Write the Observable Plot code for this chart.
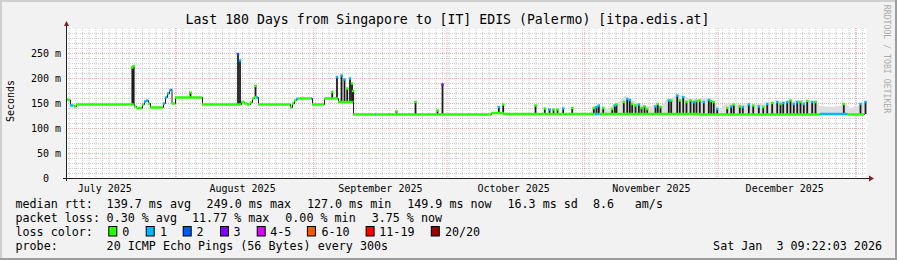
<!DOCTYPE html>
<html><head><meta charset="utf-8">
<script src="https://cdn.jsdelivr.net/npm/d3@7"></script>
<script src="https://cdn.jsdelivr.net/npm/@observablehq/plot@0.6"></script>
<style>
html,body{margin:0;padding:0;background:#f2f2f2;}
#chart svg{display:block;}
</style></head><body><div id="chart"></div>
<script>
// ---------------- data ----------------
const startTime = Date.UTC(2025, 6, 7, 9, 22, 3);   // 180 days window
const endTime   = Date.UTC(2026, 0, 3, 9, 22, 3);

// median rtt (ms) as steps: day offset from start, value, loss bucket index
const medDay  = [0.0,0.45,0.9,1.58,1.8,2.25,14.85,15.3,15.75,16.65,17.1,17.55,18.0,18.45,18.9,21.38,21.83,22.28,22.73,23.18,23.51,23.74,24.3,24.53,30.15,30.6,38.25,39.38,40.05,40.73,41.4,41.85,42.3,42.75,43.2,49.95,50.4,50.85,51.3,51.75,52.2,55.13,55.35,57.83,58.05,60.75,61.2,64.46,64.58,69.53,69.75,94.95,95.63,98.33,119.03,119.93,142.65,169.2,169.65,175.5,175.73,179.33,179.6];
const medMs   = [158,157,146,146,144,148,148,144,141,141,148,154,156,150,142,142,150,162,170,176,178,150,150,162,162,148,148,153,150,148,152,160,163,162,148,148,142,150,156,159,160,160,148,148,160,160,153,153,128,128,128,128,131,129,129,129,128,128,129,129,128,128,128];
const medLoss = [0,0,1,0,0,0,0,0,0,0,0,1,1,0,0,0,1,1,1,1,1,0,0,0,0,0,0,0,0,0,0,0,0,1,0,0,0,0,0,1,0,1,0,0,0,0,0,0,0,1,0,0,0,0,1,0,0,0,1,1,0,0,0];

// short bursts of the median (dark spikes): day offset, peak ms, loss bucket at peak
const spikeDay  = [14.81,15.12,27.9,38.59,39.04,42.53,59.79,60.86,61.88,62.55,63.16,63.79,64.24,64.5,74.25,78.53,83.48,84.6,97.27,98.26,105.53,107.62,108.68,109.58,110.48,111.76,113.79,118.65,119.25,119.77,120.76,122.78,123.37,123.75,125.39,126.16,126.74,127.28,128.03,128.77,129.38,130.05,130.66,132.53,133.04,133.65,135.52,136.06,137.41,137.99,138.76,139.5,140.4,141.14,141.75,142.49,143.39,144.52,145.06,145.64,146.41,148.66,149.56,150.14,151.49,152.17,153.52,154.51,155.77,156.76,157.66,158.78,159.91,160.65,161.26,162.16,162.9,163.64,164.41,165.15,165.89,166.66,167.78,168.53,174.89,178.65,179.78];
const spikeTop  = [222,225,172,249,236,185,173,203,206,198,180,200,190,175,134,153,136,188,143,148,146,140,138,138,138,140,141,141,143,146,141,139,146,148,153,159,157,149,146,148,141,144,139,144,149,143,156,156,166,156,163,153,156,153,155,156,153,157,155,153,139,141,144,148,144,143,148,146,144,143,149,151,153,149,151,153,156,149,153,153,149,155,153,153,149,149,153];
const spikeLoss = [0,0,0,2,1,0,0,1,1,1,0,1,0,0,0,0,0,3,1,0,0,0,1,0,0,1,0,0,1,1,0,0,1,0,0,1,1,0,0,1,0,0,0,1,0,0,1,0,1,0,1,0,0,1,0,0,1,1,0,0,1,0,1,0,0,1,1,0,1,0,1,0,1,0,1,1,0,1,1,0,1,0,1,0,0,1,1];

// smoke (spread of the pings), upper edge in ms
const smokeDay = [117.9,118.58,120.15,121.95,123.3,124.65,125.78,127.35,129.15,131.4,132.75,134.1,135.0,136.35,137.48,139.28,140.85,142.65,144.45,146.25,147.15,148.28,150.53,152.78,155.03,157.28,159.53,161.78,164.03,166.28,168.53,169.65,171.9,174.15,175.28,176.4,178.2,179.78];
const smokeHi  = [128,143,143,137,149,153,165,157,147,143,149,143,157,160,167,163,157,159,159,149,135,149,149,147,147,151,153,154,155,155,153,144,142,144,150,140,144,153];

const yTicks = [0, 50, 100, 150, 200, 250];
const lossLabels = ["0", "1", "2", "3", "4-5", "6-10", "11-19", "20/20"];
const lossColors = ["#26ff00", "#00b8ff", "#0059ff", "#7e00ff", "#dd00ff", "#ff5500", "#ff0000", "#a10000"];

const titleText = "Last 180 Days from Singapore to [IT] EDIS (Palermo) [itpa.edis.at]";
const rttStats  = ["139.7 ms avg", "249.0 ms max", "127.0 ms min", "149.9 ms now", "16.3 ms sd", "8.6", "am/s"];
const lossStats = ["0.30 % avg", "11.77 % max", "0.00 % min", "3.75 % now"];
const probeText = "20 ICMP Echo Pings (56 Bytes) every 300s";
const stampText = "Sat Jan\u00a0\u00a03 09:22:03 2026";

// ---------------- build ----------------
const DAY = 864e5;
const toDate = d => new Date(startTime + d * DAY);
const start = new Date(startTime), end = new Date(endTime);

const median = medDay.map((d, i) => ({t: toDate(d), v: medMs[i], c: lossColors[medLoss[i]]}));
const segs = median.slice(0, -1).map((p, i) => ({t1: p.t, t2: median[i + 1].t, v: p.v, c: p.c}));
const bis = d3.bisector(p => p.t).right;
const baseAt = t => median[Math.max(0, bis(median, t) - 1)].v;
const spikes = spikeDay.map((d, i) => { const t = toDate(d); return {t, top: spikeTop[i], base: baseAt(t), c: lossColors[spikeLoss[i]]}; });
const smoke = smokeDay.map((d, i) => { const t = toDate(d); return {t, hi: smokeHi[i], lo: baseAt(t) - 1}; });

const monthStarts = d3.utcMonth.range(start, end).filter(m => m > start);
const labelDates = d3.utcMonth.range(d3.utcMonth.floor(start), end).map(m => d3.utcDay.offset(m, 15)).filter(t => t > start && t < end);
const gridAnchor = Date.UTC(2025, 7, 1);
const minorX = d3.range(-20, 110).map(k => new Date(gridAnchor + k * 1.5 * DAY)).filter(t => t > start && t < end);
const minorY = d3.range(10, 300, 10).filter(v => v % 50 !== 0);
const majorY = yTicks.filter(v => v > 0);
const yFmt = d => d === 0 ? "0" : `${d} m`;

const plot = Plot.plot({
  width: 897, height: 260,
  marginLeft: 66, marginRight: 31, marginTop: 28, marginBottom: 82,
  style: {background: "transparent", fontFamily: "DejaVu Sans Mono", fontSize: "10px", color: "#000", overflow: "visible"},
  x: {type: "utc", domain: [start, end]},
  y: {domain: [0, 300], axis: null},
  color: {type: "identity"},
  marks: [
    Plot.frame({fill: "#ffffff", stroke: null}),
    Plot.ruleY(minorY, {stroke: "rgba(143,143,143,0.75)", strokeWidth: 0.6, strokeDasharray: "1,1"}),
    Plot.ruleX(minorX, {stroke: "rgba(143,143,143,0.75)", strokeWidth: 0.6, strokeDasharray: "1,1"}),
    Plot.ruleY(majorY, {stroke: "rgba(222,79,79,0.6)", strokeWidth: 0.8, strokeDasharray: "1,1"}),
    Plot.ruleX(monthStarts, {stroke: "rgba(222,79,79,0.6)", strokeWidth: 0.8, strokeDasharray: "1,1"}),
    Plot.areaY(smoke, {x: "t", y1: "lo", y2: "hi", fill: "#dedede"}),
    Plot.line(median, {x: "t", y: "v", curve: "step-after", stroke: "#202020", strokeWidth: 1}),
    Plot.ruleX(spikes, {x: "t", y1: "base", y2: "top", stroke: "#1a1a1a", strokeWidth: 1.8}),
    Plot.ruleY(segs, {x1: "t1", x2: "t2", y: "v", stroke: "c", strokeWidth: 2.5}),
    Plot.dot(spikes, {x: "t", y: "top", fill: "c", stroke: null, symbol: "square", r: 1.4}),
    // y tick labels ("0" sits two character cells further left, as rrdtool pads it)
    Plot.text(yTicks.filter(d => d !== 0), {x: () => start, y: d => d, text: yFmt, textAnchor: "end", dx: -5.5, fontSize: 10, fill: "#000"}),
    Plot.text([0], {x: () => start, y: d => d, text: yFmt, textAnchor: "end", dx: -17.5, fontSize: 10, fill: "#000"}),
    Plot.axisX({ticks: labelDates, tickFormat: d3.utcFormat("%B %Y"), tickSize: 0, tickPadding: 6, fontSize: 10, label: null})
  ]
});
document.getElementById("chart").appendChild(plot);

// ---------------- decorations (axes lines, arrows, texts, legend) ----------------
const svg = d3.select(plot);
const sx = plot.scale("x"), sy = plot.scale("y");
const X0 = sx.apply(start), X1 = sx.apply(end), Y0 = sy.apply(0), YT = sy.apply(300);
const font = "DejaVu Sans Mono";

// frame shading
svg.append("path").attr("d", `M0,0H897V2H2V260H0Z`).attr("fill", "#cfcfcf");
svg.append("path").attr("d", `M897,0V260H0V258H895V0Z`).attr("fill", "#9e9e9e");

// axes
const ax = svg.append("g").attr("stroke", "#1f1f1f").attr("stroke-width", 1);
ax.append("line").attr("x1", X0 - 3).attr("x2", X1 + 3).attr("y1", Y0 + 0.5).attr("y2", Y0 + 0.5);
ax.append("line").attr("x1", X0 + 0.5).attr("x2", X0 + 0.5).attr("y1", Y0 + 3).attr("y2", YT - 2);
svg.append("path").attr("d", `M${X1 + 3},${Y0 - 2.5}L${X1 + 8},${Y0 + 0.5}L${X1 + 3},${Y0 + 3.5}Z`).attr("fill", "#801f1f");
svg.append("path").attr("d", `M${X0 - 2},${YT - 2}L${X0 + 0.5},${YT - 7}L${X0 + 3},${YT - 2}Z`).attr("fill", "#801f1f");

function txt(x, y, s, size, opts = {}) {
  const t = svg.append("text").attr("x", x).attr("y", y).text(s)
    .attr("font-family", font).attr("font-size", size).attr("fill", opts.fill || "#000")
    .attr("text-anchor", opts.anchor || "start").style("white-space", "pre");
  if (opts.transform) t.attr("transform", opts.transform);
  return t;
}

// title
txt(447.5, 24, titleText, 13.2, {anchor: "middle"});
// vertical label
txt(0, 0, "Seconds", 10, {anchor: "middle", transform: "translate(14.3,101) rotate(-90)"});
// watermark
txt(0, 0, "RRDTOOL / TOBI OETIKER", 8.2, {anchor: "middle", fill: "#ababab", transform: "translate(884,59) rotate(90)"});

// legend
const LF = 11.7;
txt(15.5, 208, "median rtt:", LF);
[106.6, 206.6, 306.9, 407.2, 507.5, 592.9, 634.8].forEach((x, i) => txt(x, 208, rttStats[i], LF));
txt(15.5, 222, "packet loss:", LF);
[106.6, 192, 285.3, 371.7].forEach((x, i) => txt(x, 222, lossStats[i], LF));
txt(15.5, 236, "loss color:", LF);
const boxX = [108.3, 145.7, 182.7, 220, 256.7, 306.9, 365.6, 430.8];
const labX = [122.3, 160, 196.6, 233.6, 270.3, 321.4, 379.3, 444.9];
lossLabels.forEach((l, i) => {
  svg.append("rect").attr("x", boxX[i] + 0.5).attr("y", 226.5).attr("width", 8).attr("height", 9.5)
    .attr("fill", lossColors[i]).attr("stroke", "#000").attr("stroke-width", 1);
  txt(labX[i], 236, l, LF);
});
txt(15.5, 250, "probe:", LF);
txt(106.6, 250, probeText, LF);
txt(882, 250, stampText, LF, {anchor: "end"});
</script></body></html>
